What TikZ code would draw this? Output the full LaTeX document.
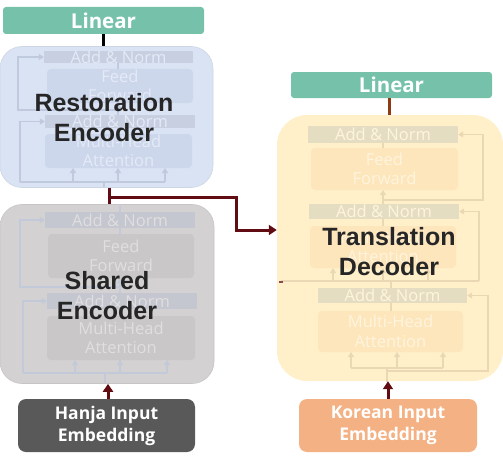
\documentclass[tikz,border=0pt]{standalone}
\usepackage{fontspec}
\setmainfont{Open Sans}
\newfontfamily\ovlfont{Liberation Sans}
\usetikzlibrary{arrows.meta}
\definecolor{linteal}{RGB}{118,193,170}
\definecolor{arrowred}{RGB}{96,12,18}
\definecolor{brownline}{RGB}{140,60,20}
\definecolor{hanjagray}{RGB}{89,89,89}
\definecolor{koreanor}{RGB}{244,177,131}
\definecolor{ovltext}{RGB}{38,38,38}
\definecolor{rBg}{RGB}{218,227,243}
\definecolor{rBar}{RGB}{199,207,225}
\definecolor{rBox}{RGB}{204,215,236}
\definecolor{rTxt}{RGB}{228,234,246}
\definecolor{rLine}{RGB}{192,202,222}
\definecolor{sBg}{RGB}{211,209,209}
\definecolor{sBar}{RGB}{196,198,208}
\definecolor{sBox}{RGB}{201,199,199}
\definecolor{sTxt}{RGB}{224,222,222}
\definecolor{sLine}{RGB}{194,201,217}
\definecolor{dBg}{RGB}{255,240,202}
\definecolor{dBar}{RGB}{229,221,193}
\definecolor{dBox}{RGB}{253,229,188}
\definecolor{dTxt}{RGB}{255,245,222}
\definecolor{dLine}{RGB}{234,216,180}
\newcommand\comp[8]{%
  \node[#6,minimum width=#4pt,minimum height=#5pt] (#1) at (#2,#3) {};
  \node[#7] (#1t) at (#1) {#8};}
\begin{document}
\begin{tikzpicture}[x=1pt,y=-1pt,
  ftxt/.style={font=\fontsize{16.5}{19.5}\selectfont,align=center,inner sep=0pt},
  rt/.style={ftxt,text=rTxt}, st/.style={ftxt,text=sTxt}, dt/.style={ftxt,text=dTxt},
  rbar/.style={fill=rBar,inner sep=0pt}, rbox/.style={fill=rBox,rounded corners=4pt,inner sep=0pt},
  sbar/.style={fill=sBar,inner sep=0pt}, sbox/.style={fill=sBox,rounded corners=4pt,inner sep=0pt},
  dbar/.style={fill=dBar,inner sep=0pt}, dbox/.style={fill=dBox,rounded corners=4pt,inner sep=0pt},
  rl/.style={draw=rLine,line width=1.3pt}, rla/.style={rl,-{Triangle[length=5pt,width=6pt]}},
  sl/.style={draw=sLine,line width=1.3pt}, sla/.style={sl,-{Triangle[length=5pt,width=6pt]}},
  dl/.style={draw=dLine,line width=1.3pt}, dla/.style={dl,-{Triangle[length=5pt,width=6pt]}},
  bigbox/.style={inner sep=0pt,rounded corners=22pt},
  ovl/.style={font=\ovlfont\bfseries\fontsize{25}{30}\selectfont,text=ovltext,align=center,inner sep=0pt},
  linbox/.style={fill=linteal,rounded corners=3pt,inner sep=0pt,text=white,font=\bfseries\fontsize{20.5}{22}\selectfont},
  embbox/.style={rounded corners=8pt,inner sep=0pt,text=white,align=center,font=\bfseries\fontsize{17.5}{22}\selectfont},
  conn/.style={draw=arrowred,line width=3pt},
  conna/.style={conn,-{Triangle[length=8pt,width=10pt]}}]
\useasboundingbox (0,0) rectangle (503,460);

% ---------- big boxes ----------
\node[bigbox,fill=rBg,draw=rBg!94!black,line width=0.6pt,minimum width=213pt,minimum height=141pt] (resEnc) at (106.5,117) {};
\node[bigbox,fill=sBg,draw=sBg!94!black,line width=0.6pt,minimum width=214pt,minimum height=179pt] (shEnc) at (107,294) {};
\node[bigbox,rounded corners=30pt,fill=dBg,minimum width=226pt,minimum height=266pt] (dec) at (390,248) {};

% ---------- restoration encoder internals ----------
\comp{rAN1}{118.5}{57}{149}{12}{rbar}{rt}{Add \& Norm}
\comp{rFF}{120}{86}{146}{34}{rbox}{rt}{Feed\\Forward}
\comp{rAN2}{120}{121.5}{150}{13}{rbar}{rt}{Add \& Norm}
\comp{rMH}{118.5}{151}{147}{34}{rbox}{rt}{Multi-Head\\Attention}
\draw[rl] (104,187) -- (104,182);
\draw[rl] (20,182) -- (165,182);
\foreach \x in {73,118,165} \draw[rla] (\x,182) -- (\x,168);
\draw[rla] (20,182) |- (rAN2.west);
\draw[rl] (118,134) -- (118,128);
\draw[rla] (118,115) -- (118,103);
\draw[rla] (118,110) -- (18,110) |- (rAN1.west);
\draw[rl] (118,69) -- (118,63);

% ---------- shared encoder internals ----------
\comp{sAN1}{120}{220}{150}{16}{sbar}{st}{Add \& Norm}
\comp{sFF}{121}{256}{146}{44}{sbox}{st}{Feed\\Forward}
\comp{sAN2}{122}{301}{150}{16}{sbar}{st}{Add \& Norm}
\comp{sMH}{121}{338}{148}{44}{sbox}{st}{Multi-Head\\Attention}
\draw[sl] (105,383) -- (105,373);
\draw[sl] (23,373) -- (167,373);
\foreach \x in {75,120,167} \draw[sla] (\x,373) -- (\x,360);
\draw[sla] (23,373) |- (sAN2.west);
\draw[sl] (120,316) -- (120,309);
\draw[sla] (120,293) -- (120,278);
\draw[sla] (120,287) -- (20,287) |- (sAN1.west);
\draw[sl] (120,234) -- (120,228);
\draw[sl] (120,212) -- (120,206);

% ---------- decoder internals ----------
\comp{dAN1}{383}{134.5}{150}{17}{dbar}{dt}{Add \& Norm}
\comp{dFF}{384.5}{169}{147}{42}{dbox}{dt}{Feed\\Forward}
\comp{dAN2}{384}{211.5}{150}{15}{dbar}{dt}{Add \& Norm}
\comp{dMH1}{383}{247}{146}{42}{dbox}{dt}{Multi-Head\\Attention}
\comp{dAN3}{392.5}{295.5}{149}{15}{dbar}{dt}{Add \& Norm}
\comp{dMH2}{390.5}{331.5}{145}{41}{dbox}{dt}{Multi-Head\\Attention}
\draw[dl] (387,382) -- (387,368);
\draw[dl] (351,368) -- (443,368);
\foreach \x in {351,397,443} \draw[dla] (\x,368) -- (\x,352);
\draw[dla] (387,371) -- (488,371) |- (dAN3.east);
\draw[dl] (391,311) -- (391,303);
\draw[dl] (391,288) -- (391,281);
\draw[dl] (281,281) -- (479,281);
\foreach \x in {333,383,428} \draw[dla] (\x,281) -- (\x,268);
\draw[dla] (479,281) |- (dAN2.east);
\draw[dl] (383,226) -- (383,219);
\draw[dla] (383,204) -- (383,190);
\draw[dla] (383,200) -- (483,200) |- (dAN1.east);
\draw[dl] (383,148) -- (383,143);
\fill[arrowred!75] (279,280.5) rectangle (283,282.5);

% ---------- overlay labels ----------
\node[ovl] (resLbl) at (104,118) {Restoration\\Encoder};
\node[ovl] (shLbl) at (107,296) {Shared\\Encoder};
\node[ovl] (decLbl) at (389,252) {Translation\\Decoder};

% ---------- outer nodes ----------
\node[linbox,minimum width=201pt,minimum height=27pt] (linL) at (103.5,20.5) {Linear};
\node[linbox,minimum width=201pt,minimum height=26pt] (linR) at (391.5,85) {Linear};
\node[embbox,fill=hanjagray,minimum width=177pt,minimum height=53pt] (hanja) at (106.5,425.5) {Hanja Input\\Embedding};
\node[embbox,fill=koreanor,minimum width=178pt,minimum height=53pt] (korean) at (388,425.5) {Korean Input\\Embedding};

% ---------- connectors ----------
\draw[line width=3pt] (linL.south -| 103,0) -- (resEnc.north -| 103,0);
\draw[draw=brownline,line width=3pt] (linR.south -| 389,0) -- (dec.north -| 389,0);
\coordinate (tap) at (109,197);
\coordinate (bend) at (236,230);
\draw[conn] (resEnc.south -| tap) -- (shEnc.north -| tap);
\draw[conna] (tap) -| (bend) -- (bend -| dec.west);
\draw[conna] (hanja.north -| 108,0) -- (shEnc.south -| 108,0);
\draw[conna] (korean.north) -- (korean.north |- dec.south);
\end{tikzpicture}
\end{document}
